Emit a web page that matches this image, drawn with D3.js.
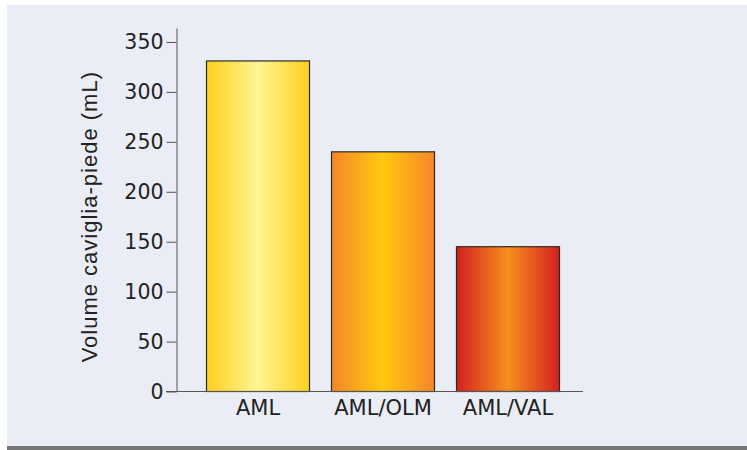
<!DOCTYPE html>
<html>
<head>
<meta charset="utf-8">
<script src="https://cdn.jsdelivr.net/npm/d3@7/dist/d3.min.js"></script>
<style>
  html, body { margin: 0; padding: 0; background: #ffffff; }
  svg { display: block; }
</style>
</head>
<body>
<svg id="chart" width="747" height="450"></svg>
<script>
// Ankle-foot volume per treatment group
const categories = ["AML", "AML/OLM", "AML/VAL"];
const values = [331, 240, 145];
const yTicks = [0, 50, 100, 150, 200, 250, 300, 350];
const yTitle = "Volume caviglia-piede (mL)";
// edge colour, centre colour of each bar's horizontal gradient
const barEdge = ["#ffd01c", "#f5862a", "#d42020"];
const barCentre = ["#fff592", "#ffc90f", "#f7901e"];

const svg = d3.select("#chart");
const W = 747, H = 450;

// panel background and bottom rule
svg.append("rect").attr("x", 7).attr("y", 5).attr("width", W - 7).attr("height", 441)
  .attr("fill", "#eaedf5");
svg.append("rect").attr("x", 7).attr("y", 446).attr("width", W - 7).attr("height", 4)
  .attr("fill", "#777777");

const axisX = 176.5, baseY = 391.5;

const y = d3.scaleLinear().domain([0, 364]).range([baseY, 28]);
const x = d3.scaleBand().domain(categories).range([180, 586])
  .paddingInner(0.176).paddingOuter(0.212);

// gradients
const defs = svg.append("defs");
categories.forEach((c, i) => {
  const g = defs.append("linearGradient").attr("id", "g" + i)
    .attr("x1", "0%").attr("x2", "100%").attr("y1", "0%").attr("y2", "0%");
  g.append("stop").attr("offset", "0%").attr("stop-color", barEdge[i]);
  g.append("stop").attr("offset", "50%").attr("stop-color", barCentre[i]);
  g.append("stop").attr("offset", "100%").attr("stop-color", barEdge[i]);
});

// bars
svg.append("g").selectAll("rect").data(values).join("rect")
  .attr("x", (d, i) => x(categories[i]))
  .attr("y", d => y(d))
  .attr("width", x.bandwidth())
  .attr("height", d => baseY - y(d))
  .attr("fill", (d, i) => `url(#g${i})`)
  .attr("stroke", "#2a2a2a")
  .attr("stroke-width", 1.2);

// y axis
const yAxis = svg.append("g").attr("transform", `translate(${axisX},0)`)
  .call(d3.axisLeft(y).tickValues(yTicks).tickSize(10).tickPadding(3).tickSizeOuter(0));
yAxis.select(".domain").attr("stroke", "#555");
yAxis.selectAll(".tick line").attr("stroke", "#555");
yAxis.selectAll(".tick text")
  .attr("font-family", "'DejaVu Sans', Verdana, sans-serif")
  .attr("font-size", 20.5).attr("fill", "#222");

// x axis
svg.append("line").attr("x1", 166).attr("x2", 583).attr("y1", baseY).attr("y2", baseY)
  .attr("stroke", "#555");
const xAxis = svg.append("g").attr("transform", `translate(0,${baseY})`)
  .call(d3.axisBottom(x).tickSize(0).tickPadding(9));
xAxis.select(".domain").remove();
xAxis.selectAll(".tick text")
  .attr("font-family", "'DejaVu Sans', Verdana, sans-serif")
  .attr("font-size", 21).attr("fill", "#222");

// y title
svg.append("text")
  .attr("transform", `translate(97,${(71.7 + 361.7) / 2}) rotate(-90)`)
  .attr("text-anchor", "middle")
  .attr("font-family", "'Liberation Sans', Arial, sans-serif")
  .attr("font-size", 22).attr("letter-spacing", 1).attr("fill", "#222")
  .text(yTitle);
</script>
</body>
</html>
